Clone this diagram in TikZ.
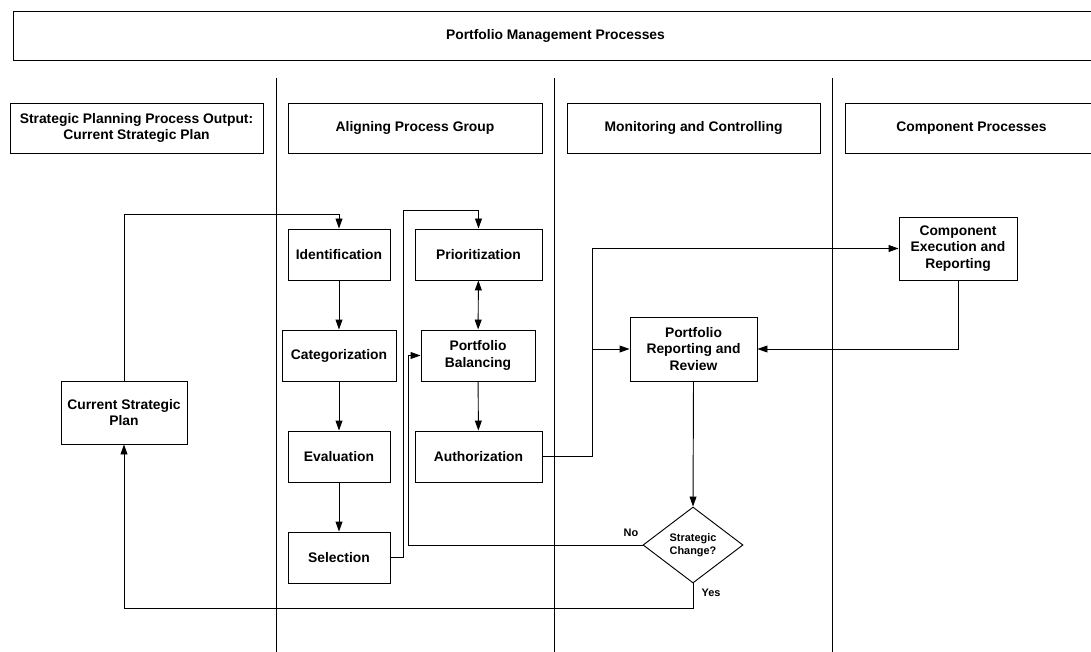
\documentclass[tikz,border=0pt]{standalone}
\usepackage{fontspec}
\setmainfont{Liberation Sans}
\usetikzlibrary{shapes.geometric,arrows.meta}
\begin{document}
\begin{tikzpicture}[x=0.75pt,y=-0.75pt,
  every node/.style={font=\fontsize{10.4}{12.4}\selectfont\bfseries},
  box/.style={draw, line width=0.7pt, align=center, inner sep=0pt},
  sz/.style 2 args={minimum width=#1*0.75pt, minimum height=#2*0.75pt},
  lane/.style={line width=0.7pt},
  con/.style={line width=0.7pt},
  tip/.tip={Triangle[length=7.5pt,width=5.2pt]},
  arr/.style={line width=0.7pt, -tip},
  darr/.style={line width=0.7pt, tip-tip},
  dec/.style={draw, diamond, line width=0.7pt, align=center, inner sep=0pt,
    minimum width=75pt, minimum height=57pt, font=\fontsize{8.2}{10}\selectfont\bfseries},
  lbl/.style={font=\fontsize{8.2}{10}\selectfont\bfseries}]
\useasboundingbox (0,0) rectangle (1091,652);
\clip (0,0) rectangle (1091,652);
% title and lane headers
\node[box, sz={1085}{49}] (top) at (555.5,35.5) {Portfolio Management Processes};
\node[box, sz={253}{50}] (h1) at (136.5,128) {Strategic Planning Process Output:\\Current Strategic Plan};
\node[box, sz={254}{50}] (h2) at (415,128) {Aligning Process Group};
\node[box, sz={253}{50}] (h3) at (693.5,128) {Monitoring and Controlling};
\node[box, sz={253}{50}] (h4) at (971.5,128) {Component Processes};
% lane separators
\coordinate (l1t) at (276,78); \coordinate (l1b) at (276,652);
\coordinate (l2t) at (554,78); \coordinate (l2b) at (554,652);
\coordinate (l3t) at (832,78); \coordinate (l3b) at (832,652);
\draw[lane] (l1t) -- (l1b);
\draw[lane] (l2t) -- (l2b);
\draw[lane] (l3t) -- (l3b);
% process boxes
\node[box, sz={126}{63}] (csp) at (124,412.5) {Current Strategic\\Plan};
\node[box, sz={102}{51}] (ident) at (339,254.5) {Identification};
\node[box, sz={114}{51}] (categ) at (339,355.5) {Categorization};
\node[box, sz={102}{51}] (eval) at (339,456.5) {Evaluation};
\node[box, sz={102}{51}] (sel) at (339,557.5) {Selection};
\node[box, sz={127}{51}] (prior) at (478.5,254.5) {Prioritization};
\node[box, sz={114}{51}] (bal) at (478,355.5) {Portfolio\\Balancing};
\node[box, sz={127}{51}] (auth) at (478.5,456.5) {Authorization};
\node[box, sz={127}{64}] (prr) at (693.5,349) {Portfolio\\Reporting and\\Review};
\node[box, sz={118}{63}] (cer) at (958,248.5) {Component\\Execution and\\Reporting};
\node[dec] (dia) at (693,545) {Strategic\\Change?};
\node[lbl] (no) at (631,533) {No};
\node[lbl] (yes) at (711,593) {Yes};
% connectors
\draw[arr] (csp.north) |- (ident.north |- 0,214) -- (ident.north);
\draw[arr] (ident) -- (categ);
\draw[arr] (categ) -- (eval);
\draw[arr] (eval) -- (sel);
\draw[arr] (sel.east) -- ++(13,0) |- (prior.north |- 0,210) -- (prior.north);
\draw[darr] (prior) -- (bal);
\draw[arr] (bal) -- (auth);
\coordinate (j1) at (592,349);
\draw[con] (auth.east) -| (j1);
\draw[arr] (j1) |- (cer.west);
\draw[arr] (j1) -- (prr.west);
\draw[arr] (cer.south) |- (prr.east);
\draw[arr] (prr.south) -- (dia.north);
\draw[arr] (dia.west) -| ([xshift=-9pt]bal.west) -- (bal.west);
\draw[arr] (dia.south) -- ++(0,25) -| (csp.south);
\end{tikzpicture}
\end{document}
